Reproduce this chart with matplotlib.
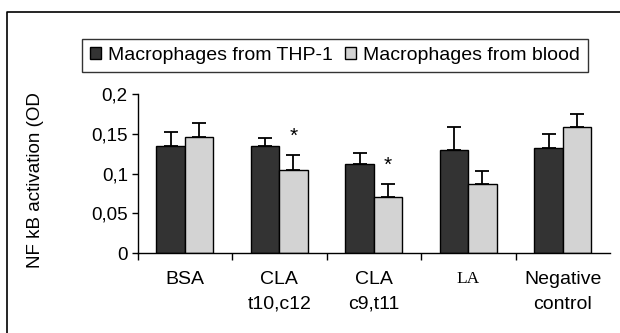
import matplotlib
matplotlib.use("Agg")
import matplotlib.pyplot as plt
import numpy as np
from matplotlib.lines import Line2D

plt.rcParams['font.family'] = ['Liberation Sans', 'DejaVu Sans']

categories = ["BSA", "CLA\nt10,c12", "CLA\nc9,t11", "LA", "Negative\ncontrol"]
series_names = ["Macrophages from THP-1", "Macrophages from blood"]
thp1 = [0.135, 0.135, 0.112, 0.130, 0.132]
thp1_err = [0.017, 0.010, 0.014, 0.029, 0.018]
blood = [0.146, 0.105, 0.071, 0.087, 0.159]
blood_err = [0.018, 0.018, 0.016, 0.016, 0.016]
blood_sig = [False, True, True, False, False]
yticks = [0, 0.05, 0.1, 0.15, 0.2]
ytick_labels = ["0", "0,05", "0,1", "0,15", "0,2"]
ylabel = "NF kB activation (OD"

W, H = 620, 333
fig = plt.figure(figsize=(W / 100, H / 100), dpi=100)
ax = fig.add_axes([137.5 / W, 80 / H, 472.5 / W, 158.8 / H])

x = np.arange(len(categories)) + 0.5
bw = 0.3
dark = "#333333"
light = "#d3d3d3"
b1 = ax.bar(x - bw / 2, thp1, bw, color=dark, edgecolor="black", linewidth=1.0,
            label=series_names[0], zorder=2)
b2 = ax.bar(x + bw / 2, blood, bw, color=light, edgecolor="black", linewidth=1.0,
            label=series_names[1], zorder=2)
zeros = np.zeros(len(categories))
ax.errorbar(x - bw / 2, thp1, yerr=[zeros, thp1_err], fmt="none", ecolor="black",
            elinewidth=1.3, capsize=5.2, capthick=1.3, zorder=3)
ax.errorbar(x + bw / 2, blood, yerr=[zeros, blood_err], fmt="none", ecolor="black",
            elinewidth=1.3, capsize=5.2, capthick=1.3, zorder=3)
for xi, v, e, s in zip(x + bw / 2, blood, blood_err, blood_sig):
    if s:
        ax.text(xi, v + e + 0.024, "*", ha="center", va="center", fontsize=15)

ax.set_xlim(0, 5)
ax.set_ylim(0, 0.2)
ax.set_yticks(yticks)
ax.set_yticklabels(ytick_labels, fontsize=13.5)
ax.tick_params(axis="y", direction="out", length=4, width=1, pad=3)

ax.set_xticks(np.arange(0, 5), minor=True)
ax.set_xticks(x)
labels = ax.set_xticklabels(categories, fontsize=14, linespacing=1.6)
for lab in labels:
    if lab.get_text() == "LA":
        lab.set_family(["Liberation Serif", "DejaVu Serif"])
        lab.set_fontsize(12.5)
ax.tick_params(axis="x", which="major", length=0, pad=13)
ax.tick_params(axis="x", which="minor", direction="out", length=5, width=1)
for lab in labels:
    lab.set_verticalalignment("top")

for side in ["top", "right"]:
    ax.spines[side].set_visible(False)
for side in ["left", "bottom"]:
    ax.spines[side].set_linewidth(1.0)

fig.text(36 / W, 1 - 180 / H, ylabel, rotation=90, ha="center", va="center", fontsize=13.5)

leg = fig.legend(handles=[b1, b2], loc="center", ncol=2,
                 bbox_to_anchor=(335 / W, 1 - 55.5 / H), fontsize=14,
                 frameon=True, fancybox=False, shadow=False, edgecolor="black",
                 handlelength=0.55, handleheight=0.55, handletextpad=0.4,
                 columnspacing=0.6, borderpad=0.4, borderaxespad=0)
leg.get_frame().set_linewidth(1.0)

# outer frame (top and left edges visible)
fig.add_artist(Line2D([7 / W, 7 / W, 1.0], [0, 1 - 12 / H, 1 - 12 / H],
                      transform=fig.transFigure, color="black", linewidth=1.2))

fig.savefig("out.png", dpi=100)
